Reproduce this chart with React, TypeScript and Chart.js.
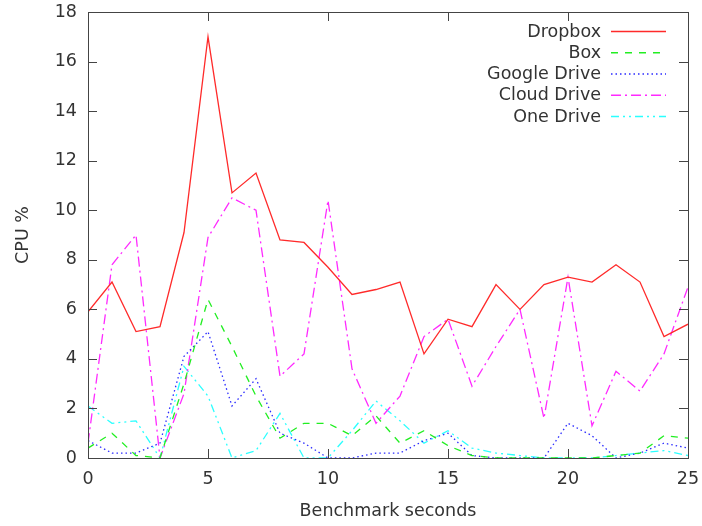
import { useEffect, useRef } from "react";
import { Chart, registerables } from "chart.js";

Chart.register(...registerables);

const seconds = [0, 1, 2, 3, 4, 5, 6, 7, 8, 9, 10, 11, 12, 13, 14, 15, 16, 17, 18, 19, 20, 21, 22, 23, 24, 25];
const dropbox = [5.9, 7.1, 5.1, 5.3, 9.1, 17.0, 10.7, 11.5, 8.8, 8.7, 7.7, 6.6, 6.8, 7.1, 4.2, 5.6, 5.3, 7.0, 6.0, 7.0, 7.3, 7.1, 7.8, 7.1, 4.9, 5.4];
const box = [0.4, 1.0, 0.1, 0.0, 3.0, 6.4, 4.5, 2.5, 0.8, 1.4, 1.4, 0.9, 1.7, 0.6, 1.1, 0.5, 0.1, 0.0, 0.0, 0.0, 0.0, 0.0, 0.1, 0.2, 0.9, 0.8];
const googleDrive = [0.7, 0.2, 0.2, 0.6, 4.1, 5.1, 2.1, 3.2, 1.0, 0.6, 0.0, 0.0, 0.2, 0.2, 0.7, 1.0, 0.1, 0.0, 0.0, 0.0, 1.4, 0.9, 0.0, 0.2, 0.6, 0.4];
const cloudDrive = [0.6, 7.8, 9.0, 0.0, 2.6, 8.9, 10.5, 10.0, 3.3, 4.2, 10.4, 3.6, 1.4, 2.5, 4.9, 5.6, 2.9, 4.5, 6.0, 1.6, 7.3, 1.3, 3.5, 2.7, 4.2, 6.9];
const oneDrive = [2.1, 1.4, 1.5, 0.0, 3.7, 2.5, 0.0, 0.3, 1.8, 0.0, 0.0, 1.1, 2.3, 1.5, 0.6, 1.1, 0.4, 0.2, 0.1, 0.0, 0.0, 0.0, 0.1, 0.2, 0.3, 0.1];

const seriesNames = ["Dropbox", "Box", "Google Drive", "Cloud Drive", "One Drive"];
const seriesValues = [dropbox, box, googleDrive, cloudDrive, oneDrive];
const seriesColors = ["#ff2a2a", "#22ee22", "#2a2aff", "#ff2aff", "#2affff"];
const seriesDashes: number[][] = [[], [7, 7], [1.5, 3], [10, 4, 2, 4], [8, 4, 2, 4, 2, 4]];

const yTicks = [0, 2, 4, 6, 8, 10, 12, 14, 16, 18];
const xTicks = [0, 5, 10, 15, 20, 25];

const FONT = "DejaVu Sans";
const TEXT = "#333333";

const framePlugin = {
  id: "gnuFrame",
  afterDatasetsDraw(chart: any) {
    const { ctx, chartArea } = chart;
    const { left, right, top, bottom } = chartArea;
    const xs = chart.scales.x;
    const ys = chart.scales.y;
    ctx.save();
    ctx.strokeStyle = "#444444";
    ctx.lineWidth = 1;
    ctx.setLineDash([]);
    ctx.strokeRect(Math.round(left) + 0.5, Math.round(top) + 0.5, Math.round(right - left), Math.round(bottom - top));
    ctx.beginPath();
    const tl = 9;
    yTicks.forEach((v) => {
      const y = Math.round(ys.getPixelForValue(v)) + 0.5;
      ctx.moveTo(left, y);
      ctx.lineTo(left + tl, y);
      ctx.moveTo(right, y);
      ctx.lineTo(right - tl, y);
    });
    xTicks.forEach((v) => {
      const x = Math.round(xs.getPixelForValue(v)) + 0.5;
      ctx.moveTo(x, bottom);
      ctx.lineTo(x, bottom - tl);
      ctx.moveTo(x, top);
      ctx.lineTo(x, top + tl);
    });
    ctx.stroke();
    ctx.restore();
  },
  afterDraw(chart: any) {
    const { ctx } = chart;
    ctx.save();
    ctx.font = `17.5px "${FONT}"`;
    ctx.fillStyle = TEXT;
    ctx.textAlign = "right";
    ctx.textBaseline = "middle";
    const textRight = 601;
    const x0 = 611;
    const x1 = 666;
    const y0 = 31;
    const dy = 21.25;
    chart.data.datasets.forEach((ds: any, i: number) => {
      const y = y0 + i * dy;
      ctx.fillText(ds.label, textRight, y + 1);
      ctx.beginPath();
      ctx.strokeStyle = ds.borderColor;
      ctx.lineWidth = ds.borderWidth;
      ctx.setLineDash(ds.borderDash || []);
      ctx.moveTo(x0, y + 0.5);
      ctx.lineTo(x1, y + 0.5);
      ctx.stroke();
    });
    ctx.restore();
  },
};

export default function App() {
  const ref = useRef<HTMLCanvasElement | null>(null);

  useEffect(() => {
    document.body.style.margin = "0";
    const canvas = ref.current;
    if (!canvas) return;
    const datasets = seriesNames.map((name, i) => ({
      label: name,
      data: seconds.map((s, j) => ({ x: s, y: seriesValues[i][j] })),
      borderColor: seriesColors[i],
      backgroundColor: seriesColors[i],
      borderWidth: 1.3,
      borderDash: seriesDashes[i],
      pointRadius: 0,
      tension: 0,
      fill: false,
    }));
    const chart = new Chart(canvas, {
      type: "line",
      data: { datasets },
      options: {
        animation: false,
        responsive: false,
        maintainAspectRatio: false,
        layout: { padding: { top: 12, right: 14, left: 0, bottom: 0 } },
        plugins: {
          legend: { display: false },
          tooltip: { enabled: false },
        },
        scales: {
          x: {
            type: "linear",
            min: 0,
            max: 25,
            afterFit: (scale: any) => {
              scale.height = 68;
              scale.paddingLeft = 0;
              scale.paddingRight = 0;
            },
            ticks: {
              stepSize: 5,
              color: TEXT,
              font: { family: FONT, size: 17.5 },
              padding: 11,
              maxRotation: 0,
            },
            grid: { display: false, drawTicks: false },
            border: { display: false },
            title: {
              display: true,
              text: "Benchmark seconds",
              color: TEXT,
              font: { family: FONT, size: 17.5 },
              padding: { top: 0, bottom: 4 },
            },
          },
          y: {
            min: 0,
            max: 18,
            afterFit: (scale: any) => {
              scale.width = 88;
              scale.paddingTop = 0;
              scale.paddingBottom = 0;
            },
            ticks: {
              stepSize: 2,
              color: TEXT,
              font: { family: FONT, size: 17.5 },
              padding: 11,
            },
            grid: { display: false, drawTicks: false },
            border: { display: false },
            title: {
              display: true,
              text: "CPU %",
              color: TEXT,
              font: { family: FONT, size: 17.5 },
              padding: { top: 13, bottom: 0 },
            },
          },
        },
      },
      plugins: [framePlugin],
    });
    return () => chart.destroy();
  }, []);

  return <canvas ref={ref} width={702} height={526} style={{ display: "block" }} />;
}
